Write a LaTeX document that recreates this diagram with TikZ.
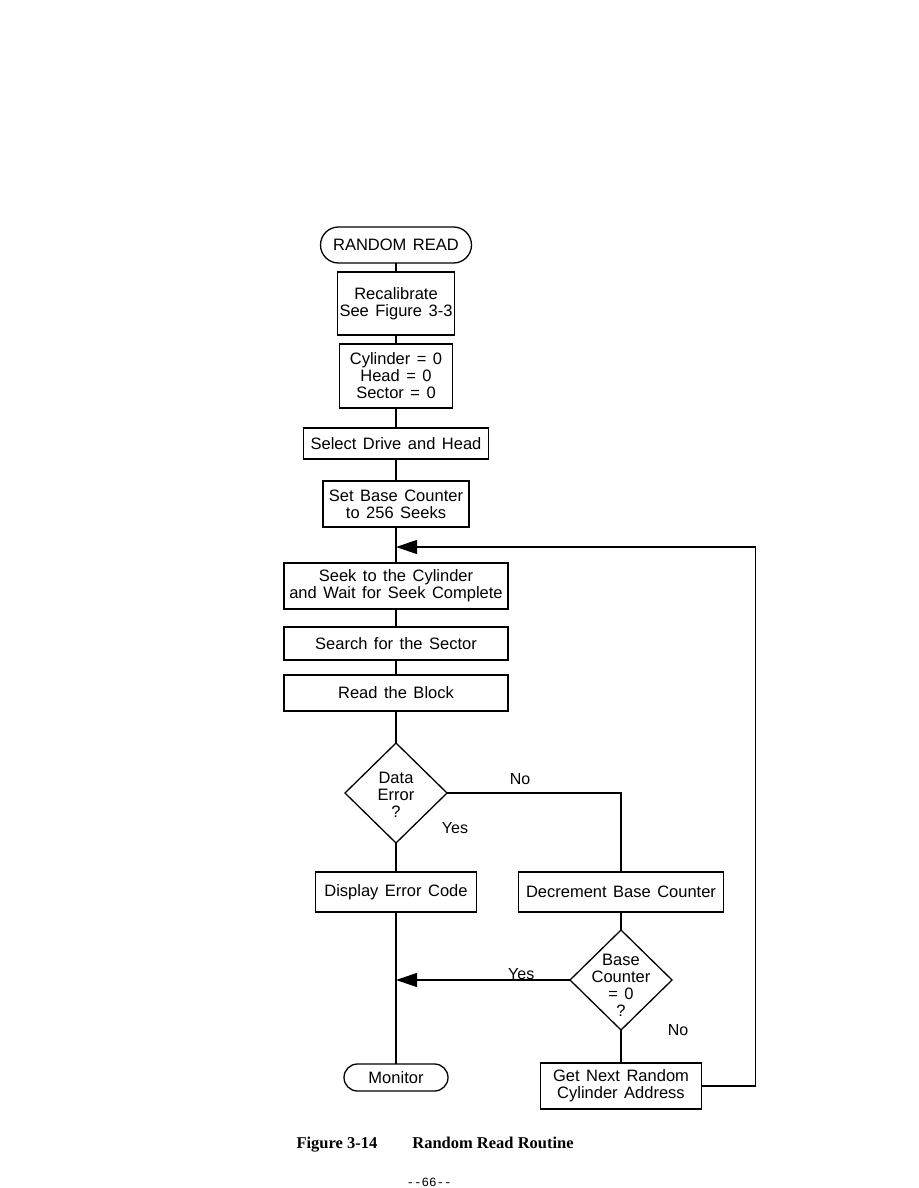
\documentclass[tikz,border=0pt]{standalone}
\usepackage{fontspec}
\setmainfont{Liberation Sans}
\newfontfamily\capfont{Liberation Serif}
\newfontfamily\pagefont{Liberation Mono}
\usetikzlibrary{shapes.geometric,arrows.meta,positioning}
\newcommand\flowfont{\fontsize{16.5}{17}\selectfont\spaceskip 6.5pt plus 1pt\relax}

\begin{document}
\begin{tikzpicture}[
    x=1pt, y=-1pt,
    font=\flowfont,
    box/.style={
        rectangle, draw, line width=1.3pt, align=center, inner sep=2pt,
        outer sep=0pt
    },
    term/.style={box, rounded corners=#1},
    decision/.style={
        diamond, draw, line width=1.3pt, aspect=1, inner sep=0pt,
        outer sep=0pt, minimum width=102pt, minimum height=100pt
    },
    line/.style={line width=1.2pt},
    arrow/.style={line, -{Triangle[length=21pt,width=14pt]}},
    tag/.style={font=\fontsize{16}{17}\selectfont}
]
\fill[white] (0,0) rectangle (918,1188);
\useasboundingbox (0,0) rectangle (918,1188);

% Nodes - main column
\node[term=18pt, minimum width=151pt, minimum height=36pt] (start) at (396,245) {RANDOM READ};
\node[box, minimum width=113pt, minimum height=63pt, below=9pt of start] (recal) {Recalibrate\\See Figure 3-3};
\node[box, minimum width=113pt, minimum height=64pt, below=9pt of recal] (zero) {Cylinder = 0\\Head = 0\\Sector = 0};
\node[box, minimum width=185pt, minimum height=31pt, below=20pt of zero] (sel) {Select Drive and Head};
\node[box, minimum width=146pt, minimum height=46pt, below=22pt of sel] (count) {Set Base Counter\\to 256 Seeks};
\node[box, minimum width=224pt, minimum height=46pt, below=36pt of count] (seek) {Seek to the Cylinder\\and Wait for Seek Complete};
\node[box, minimum width=224pt, minimum height=33pt, below=18pt of seek] (search) {Search for the Sector};
\node[box, minimum width=224pt, minimum height=36pt, below=15pt of search] (read) {Read the Block};
\node[decision, below=32pt of read, label={[align=center, yshift=-2pt]center:Data\\Error\\?}] (dataerr) {};
\node[box, minimum width=161pt, minimum height=40pt, below=29pt of dataerr] (disp) {Display Error Code};
\node[term=13.5pt, minimum width=104pt, minimum height=27pt, below=152pt of disp] (mon) {Monitor};

% Nodes - retry branch
\node[box, minimum width=205pt, minimum height=40pt, right=42pt of disp] (decr) {Decrement Base Counter};
\node[decision, below=18pt of decr, label={[align=center, yshift=-5pt]center:Base\\Counter\\= 0\\?}] (basectr) {};
\node[box, minimum width=161pt, minimum height=46pt, below=33pt of basectr] (next) {Get Next Random\\Cylinder Address};

% Junctions
\coordinate[below=20pt of count.south] (joinA);
\coordinate (joinB) at (disp |- basectr.west);
\coordinate (loopc) at ([xshift=54pt]next.east |- joinA);

% Arrows - main flow
\draw[line] (start) -- (recal);
\draw[line] (recal) -- (zero);
\draw[line] (zero) -- (sel);
\draw[line] (sel) -- (count);
\draw[line] (count) -- (seek);
\draw[line] (seek) -- (search);
\draw[line] (search) -- (read);
\draw[line] (read) -- (dataerr);
\draw[line] (dataerr) -- (disp);
\draw[line] (disp) -- (mon);

% Arrows - retry branch
\draw[line] (dataerr.east) -| node[tag, above=4pt, pos=0.21] {No} (decr.north);
\node[tag] at ([xshift=59pt, yshift=15pt]dataerr.south) {Yes};
\draw[line] (decr) -- (basectr);
\draw[line] (basectr) -- (next);
\draw[arrow] (basectr.west) -- node[tag, above, inner sep=0pt, pos=0.28] {Yes} (joinB);
\node[tag] at ([xshift=57pt]basectr.south) {No};
\draw[arrow] (next.east) -| (loopc) -- (joinA);

% Caption
\node[font=\capfont\bfseries\fontsize{16.5}{17}\selectfont, anchor=west] (cap) at (293,1145) {Figure 3-14\hspace{35pt}Random Read Routine};
\node[font=\pagefont\fontsize{12.5}{13}\selectfont] (page) at (429,1182) {-{}-66-{}-};

\end{tikzpicture}
\end{document}
